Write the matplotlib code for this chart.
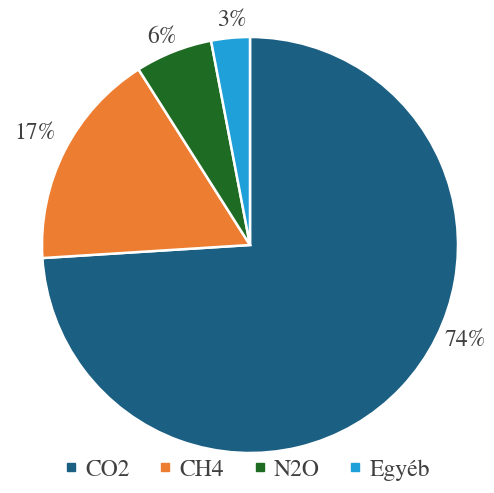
import matplotlib
matplotlib.use("Agg")
import matplotlib.pyplot as plt
from matplotlib.lines import Line2D
from matplotlib.font_manager import FontProperties

categories = ["CO2", "CH4", "N2O", "Egyéb"]
values = [74, 17, 6, 3]
labels = ["74%", "17%", "6%", "3%"]
colors = ["#1B5F83", "#ED7D31", "#1E6B23", "#1FA0D8"]
label_pos = [(465, 340), (35, 133), (162, 37), (232, 20)]

fp = FontProperties(family=['STIXGeneral', 'DejaVu Serif'], size=17)

W, H = 494, 493
fig = plt.figure(figsize=(W / 100, H / 100), dpi=100)
ax = fig.add_axes([0, 0, 1, 1])

wedges, _ = ax.pie(values, colors=colors, startangle=90, counterclock=False,
                   center=(250, H - 245), radius=208, frame=True,
                   wedgeprops=dict(edgecolor='white', linewidth=1.8))
ax.set_xlim(0, W)
ax.set_ylim(0, H)
ax.axis('off')

for lab, (x, y) in zip(labels, label_pos):
    ax.text(x, H - y, lab, ha='center', va='center', fontproperties=fp, color='#404040')

handles = [Line2D([], [], marker='s', linestyle='none', markersize=6,
                  markerfacecolor=c, markeredgecolor=c) for c in colors]
fig.legend(handles, categories, loc='center', bbox_to_anchor=(0.5, 1 - 470 / H),
           ncol=4, frameon=False, prop=fp, handlelength=0.6, handletextpad=0.3,
           columnspacing=1.2, labelcolor='#404040')

fig.savefig("out.png", dpi=100)
